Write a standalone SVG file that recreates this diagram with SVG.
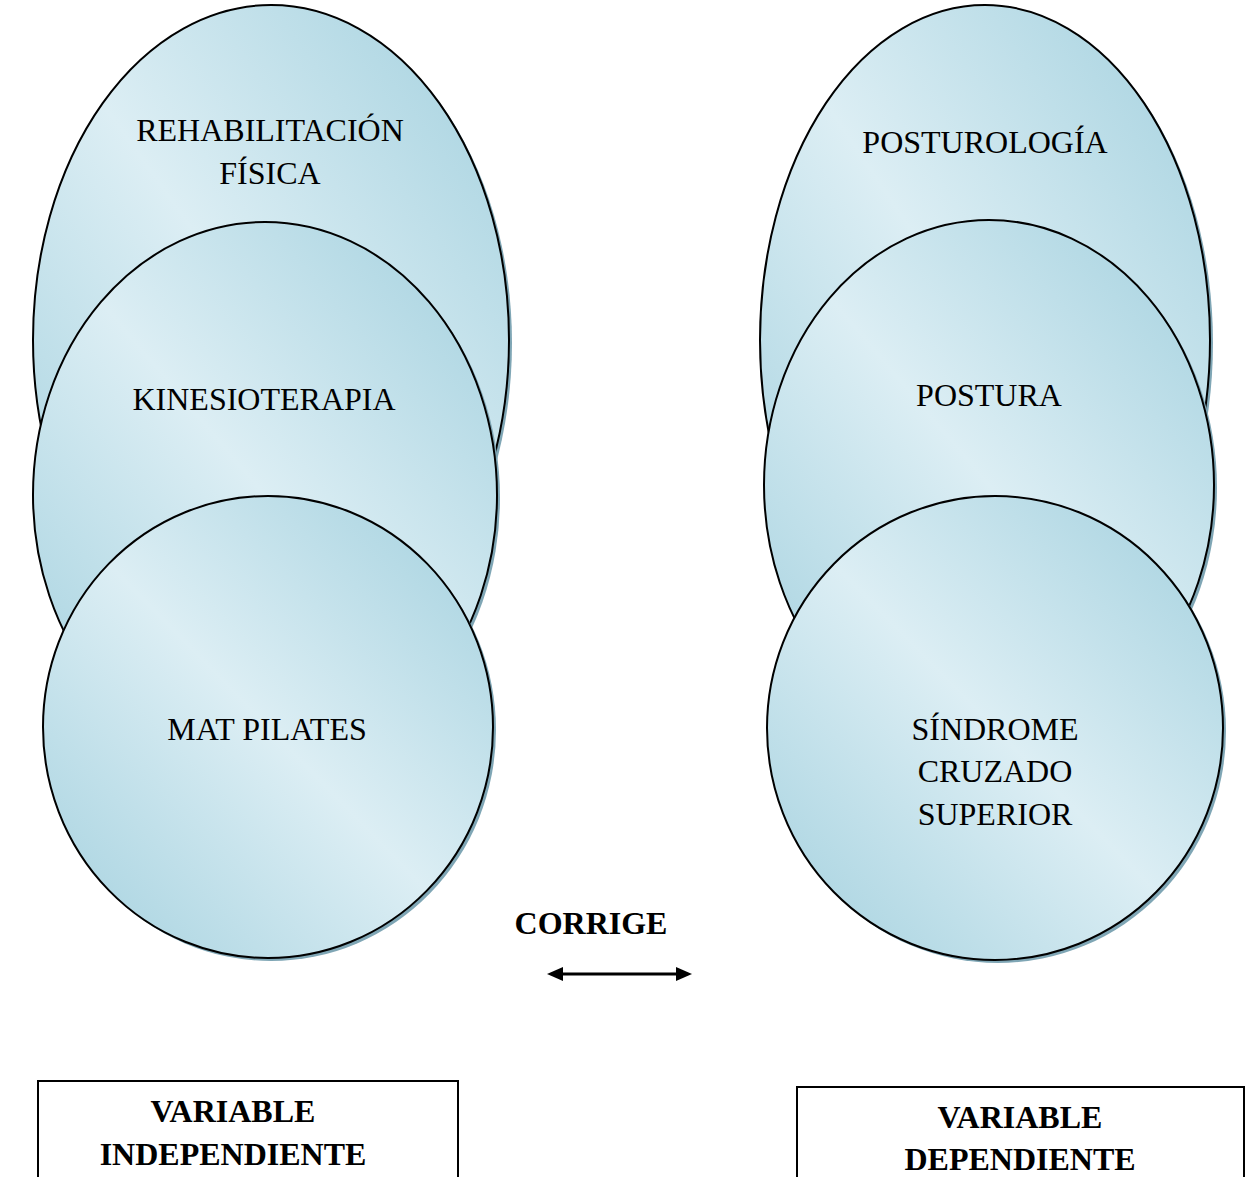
<svg xmlns="http://www.w3.org/2000/svg" width="1248" height="1177" viewBox="0 0 1248 1177">
<defs>
<linearGradient id="g" x1="1" y1="0" x2="0" y2="1">
<stop offset="0" stop-color="#a2d0de"/>
<stop offset="0.5" stop-color="#dceef4"/>
<stop offset="1" stop-color="#a2d0de"/>
</linearGradient>
</defs>
<style>
.sh{fill:#7fa6b5}
.el{fill:url(#g);stroke:#000;stroke-width:2}
.t{font-family:"Liberation Serif","Times New Roman",serif;font-size:32px;fill:#000;text-anchor:middle}
.b{font-family:"Liberation Serif","Times New Roman",serif;font-size:32px;font-weight:bold;fill:#000;text-anchor:middle}
.box{fill:#fff;stroke:#000;stroke-width:2}
.ah{fill:#000}
</style>
<rect width="1248" height="1177" fill="#fff"/>
<g id="n-rehab">
<ellipse class="sh" cx="274" cy="343" rx="238" ry="335"/>
<ellipse class="el" cx="271" cy="340" rx="238" ry="335"/>
<text class="t" x="270" y="141">REHABILITACIÓN</text>
<text class="t" x="270" y="184">FÍSICA</text>
</g>
<g id="n-kine">
<ellipse class="sh" cx="268" cy="498" rx="232" ry="273"/>
<ellipse class="el" cx="265" cy="495" rx="232" ry="273"/>
<text class="t" x="264" y="410">KINESIOTERAPIA</text>
</g>
<g id="n-mat">
<ellipse class="sh" cx="271" cy="730" rx="225" ry="231"/>
<ellipse class="el" cx="268" cy="727" rx="225" ry="231"/>
<text class="t" x="267" y="740">MAT PILATES</text>
</g>
<g id="n-postu">
<ellipse class="sh" cx="988" cy="343" rx="225" ry="335"/>
<ellipse class="el" cx="985" cy="340" rx="225" ry="335"/>
<text class="t" x="985" y="153">POSTUROLOGÍA</text>
</g>
<g id="n-postura">
<ellipse class="sh" cx="992" cy="488" rx="225" ry="265"/>
<ellipse class="el" cx="989" cy="485" rx="225" ry="265"/>
<text class="t" x="989" y="406">POSTURA</text>
</g>
<g id="n-sindrome">
<ellipse class="sh" cx="998" cy="731" rx="228" ry="232"/>
<ellipse class="el" cx="995" cy="728" rx="228" ry="232"/>
<text class="t" x="995" y="740">SÍNDROME</text>
<text class="t" x="995" y="782">CRUZADO</text>
<text class="t" x="995" y="825">SUPERIOR</text>
</g>
<g id="n-corrige">
<text class="b" x="591" y="934">CORRIGE</text>
</g>
<g id="connectors">
<line x1="560" y1="974" x2="678" y2="974" stroke="#000" stroke-width="3"/>
<polygon class="ah" points="547,974 563,967 563,981"/>
<polygon class="ah" points="692,974 676,967 676,981"/>
</g>
<g id="n-vi">
<rect class="box" x="38" y="1081" width="420" height="110"/>
<text class="b" x="233" y="1122">VARIABLE</text>
<text class="b" x="233" y="1165">INDEPENDIENTE</text>
</g>
<g id="n-vd">
<rect class="box" x="797" y="1087" width="447" height="110"/>
<text class="b" x="1020" y="1128">VARIABLE</text>
<text class="b" x="1020" y="1170">DEPENDIENTE</text>
</g>
</svg>
